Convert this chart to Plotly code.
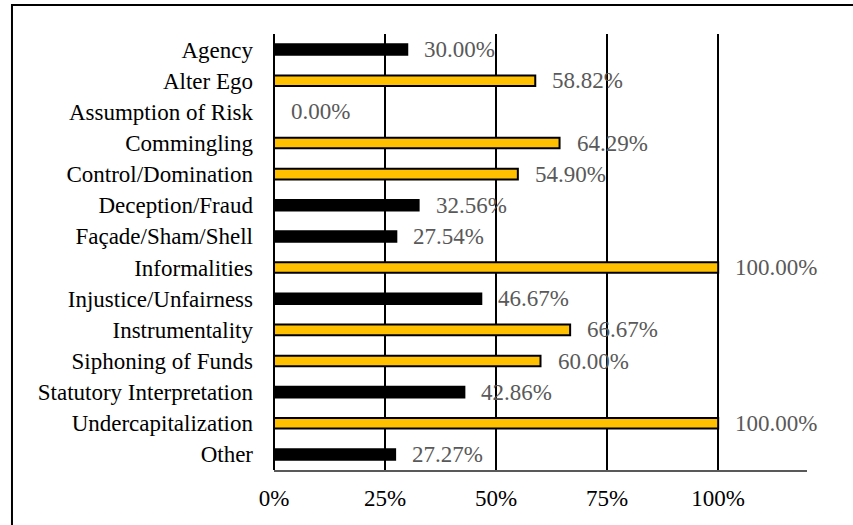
import plotly.graph_objects as go

categories = ["Agency", "Alter Ego", "Assumption of Risk", "Commingling", "Control/Domination",
              "Deception/Fraud", "Façade/Sham/Shell", "Informalities", "Injustice/Unfairness",
              "Instrumentality", "Siphoning of Funds", "Statutory Interpretation",
              "Undercapitalization", "Other"]
values = [0.30, 0.5882, 0.0, 0.6429, 0.5490, 0.3256, 0.2754, 1.0, 0.4667, 0.6667,
          0.60, 0.4286, 1.0, 0.2727]
bar_colors = ["#000000", "#FFC000", "#FFC000", "#FFC000", "#FFC000", "#000000", "#000000",
              "#FFC000", "#000000", "#FFC000", "#FFC000", "#000000", "#FFC000", "#000000"]
tick_vals = [0, 0.25, 0.5, 0.75, 1.0]
tick_text = ["0%", "25%", "50%", "75%", "100%"]

FONT = "Liberation Serif, Times New Roman, serif"

fig = go.Figure()
fig.add_trace(go.Bar(
    y=categories, x=values, orientation="h",
    marker=dict(color=bar_colors, line=dict(color="#000000", width=2)),
    width=0.34, hoverinfo="skip",
))

for c, v in zip(categories, values):
    fig.add_annotation(x=v, y=c, text=f"{v*100:.2f}%", showarrow=False,
                       xanchor="left", yanchor="middle", xshift=15,
                       font=dict(family=FONT, size=23, color="#595959"))

fig.add_shape(type="rect", xref="paper", yref="paper",
              x0=-0.4916, y0=-1.0, x1=2.0, y1=1.0665,
              line=dict(color="#000000", width=2), fillcolor="rgba(0,0,0,0)")

fig.update_layout(
    width=853, height=525,
    margin=dict(l=274, r=46, t=34, b=55),
    paper_bgcolor="white", plot_bgcolor="white",
    showlegend=False,
    font=dict(family=FONT, size=23, color="#000000"),
    xaxis=dict(range=[0, 1.2], tickvals=tick_vals, ticktext=tick_text,
               showgrid=True, gridcolor="#000000", gridwidth=1.5,
               zeroline=True, zerolinecolor="#000000", zerolinewidth=1.5,
               showline=True, linecolor="#595959", linewidth=2,
               ticks="", ticklabelstandoff=6, fixedrange=True),
    yaxis=dict(autorange="reversed", showgrid=False, ticks="",
               ticklabelstandoff=20, showline=False, fixedrange=True),
)

fig.write_html("out.html", config={"displayModeBar": False},
               post_script="document.body.style.margin='0px';")
